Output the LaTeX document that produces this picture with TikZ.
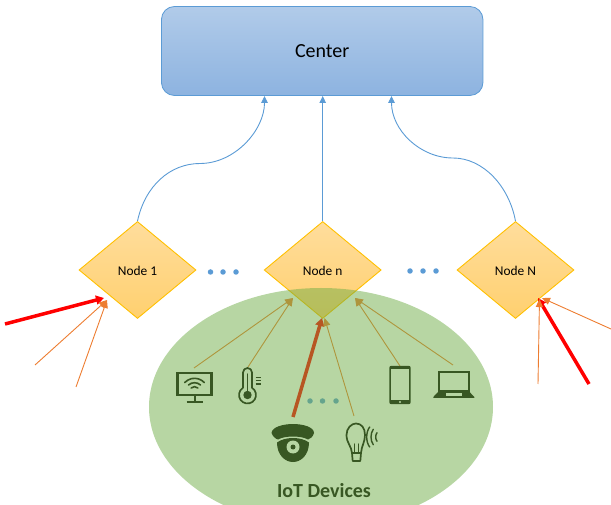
\documentclass[tikz,border=0pt]{standalone}
\usepackage{fontspec}
\setmainfont{Carlito}
\usetikzlibrary{positioning, arrows.meta, shapes.geometric}

\definecolor{centerTop}{HTML}{B1CBE9}
\definecolor{centerBottom}{HTML}{8DB3E0}
\definecolor{linkBlue}{HTML}{5B9BD5}
\definecolor{nodeTop}{HTML}{FFDD9C}
\definecolor{nodeBottom}{HTML}{FFD06F}
\definecolor{nodeBorder}{HTML}{FFC000}
\definecolor{thinOrange}{HTML}{ED7D31}
\definecolor{cloudGreen}{HTML}{70AD47}
\definecolor{iconDark}{HTML}{385723}
\definecolor{iconLight}{HTML}{B7D6A3}

\tikzset{
	icon line/.style={draw=iconDark, line width=1.7pt, line cap=round, line join=round},
	icon fill/.style={fill=iconDark},
	icon hole/.style={fill=iconLight},
	monitor icon/.pic={
		\draw [icon line, line width=2.2pt, line cap=butt, line join=miter] (-17,-8) rectangle (17,14);
		\draw [icon line, line width=2pt, line cap=butt] (0,-8) -- (0,-15) (-8,-15) -- (8,-15);
		\foreach \r/\a in {13.4/43, 9/48, 5/48}
			\draw [icon line, line width=1.6pt] (0,-4.7) ++(\a:\r) arc (\a:180-\a:\r);
	},
	thermo icon/.pic={
		\draw [icon line] (122:8.5) -- (-4.5,22.5) arc (180:0:4.5) -- (58:8.5) arc (58:-238:8.5);
		\fill [icon fill] (0,0) circle (4.2);
		\draw [icon line, line width=1.2pt] (0,0) -- (0,21);
		\foreach \y in {11, 14.3, 17.7}
			\draw [icon line, line width=1.5pt, line cap=butt] (8,\y) -- (13.5,\y);
	},
	camera icon/.pic={
		\fill [icon fill] (-21.5,14) .. controls (-21,20) and (-10,23) .. (0,23) .. controls (10,23) and (21,20) .. (21,14) .. controls (20,10) and (17,8) .. (15,7.5) .. controls (8,11.5) and (-8,11.5) .. (-15,7.5) .. controls (-17,8) and (-20,10) .. (-21.5,14) -- cycle;
		\fill [icon fill] (-16,4.5) .. controls (-8,10.5) and (8,10.5) .. (16,4.5) .. controls (16,-8) and (8,-15) .. (0,-15) .. controls (-8,-15) and (-16,-8) .. (-16,4.5) -- cycle;
		\fill [icon hole] (0,0) circle (6.5);
		\fill [icon fill] (0,0) circle (2.5);
	},
	bulb icon/.pic={
		\draw [icon line] (-4.5,-16) .. controls (-5,-9) and (-10,-6) .. (-10,2) .. controls (-10,9) and (-5,13.5) .. (-0.5,13.5) .. controls (5,13.5) and (8.5,9) .. (8.5,2) .. controls (8.5,-5) and (5,-9) .. (4.5,-16) -- cycle;
		\draw [icon line] (-4.5,-16) -- (-3.8,-24) -- (3.8,-24) -- (4.5,-16);
		\draw [icon line, line width=1.2pt] (-2,-16) -- (-2,-7) (2,-16) -- (2,-7);
		\foreach \x/\h in {10.2/10, 14.5/7.7, 19.2/4.3}
			\draw [icon line, line width=1.4pt] (\x+\h*0.3,\h) .. controls (\x-\h*0.1,\h*0.5) and (\x-\h*0.1,-\h*0.5) .. (\x+\h*0.3,-\h);
	},
	phone icon/.pic={
		\fill [icon fill, rounded corners=2pt] (-10.7,-19.2) rectangle (10.7,19.2);
		\fill [icon hole] (-9,-14.8) rectangle (9,15.9);
		\fill [icon hole] (0,-17) circle (1.2);
	},
	laptop icon/.pic={
		\draw [icon line, line width=1.8pt, line cap=butt, line join=miter] (-15,-5.7) rectangle (15,12.7);
		\fill [icon fill] (-15.5,-6.7) -- (15.5,-6.7) -- (20.5,-12) -- (20.5,-13) -- (-20.5,-13) -- (-20.5,-12) -- cycle;
		\fill [icon hole] (-7.5,-8.5) rectangle (8,-10.8);
	}
}

\begin{document}
\begin{tikzpicture}[
	x=1pt,
	y=1pt,
	center box/.style={draw=linkBlue, line width=0.8pt, rounded corners=13pt, top color=centerTop, bottom color=centerBottom, minimum width=321.5pt, minimum height=89pt, font=\fontsize{20}{24}\selectfont},
	edge node/.style={diamond, draw=nodeBorder, line width=0.9pt, top color=nodeTop, bottom color=nodeBottom, minimum width=117pt, minimum height=97pt, inner sep=0pt, text height=11pt, font=\fontsize{13.4}{16}\selectfont},
	uplink/.style={draw=linkBlue, line width=0.9pt, -{Triangle[length=7pt, width=6.5pt]}},
	thin link/.style={draw=thinOrange, line width=0.9pt, -{Triangle[length=8pt, width=7pt]}},
	red link/.style={draw=red, line width=3.5pt, -{Triangle[length=8pt, width=9pt]}},
	gap dot/.style={circle, fill=linkBlue, minimum size=5.5pt, inner sep=0pt}
]

\clip (0,0) rectangle (611,504);

\node [center box] (center) at (322.2,453) {Center};

\foreach \n/\l/\x in {node-1/1/137.5, node-n/n/322.7, node-N/N/515.5}
	\node [edge node] (\n) at (\x,234) {Node \l};

\foreach \n/\p in {
	center-left/{264.5,408}, center-mid/{322.7,408}, center-right/{391.5,408},
	in-1-a/{107,204}, in-1-b/{104,206},
	in-n-left/{293,206}, in-n-right/{355,206}, in-n-low/{322,186}, in-n-bulb/{324.5,186},
	in-N-a/{542,206}, in-N-b/{539.5,205}, in-N-c/{538,206},
	from-1-a/{35,139}, from-1-b/{76,117}, from-1-c/{5,180},
	from-monitor/{194,136}, from-thermo/{248,137}, from-phone/{400,138}, from-laptop/{453,139},
	from-camera/{293,87}, from-bulb/{354,88},
	from-N-a/{611,175}, from-N-b/{538,120}, from-N-c/{589,120}}
	\coordinate (\n) at (\p);

\draw [uplink] (node-1.north) .. controls (145,318) and (170,340.5) .. (200,340.5) .. controls (235,340.5) and (264.5,374) .. (center-left);
\draw [uplink] (node-n.north) -- (center-mid);
\draw [uplink] (node-N.north) .. controls (509,318) and (483,346) .. (453,346) .. controls (420,346) and (391.5,374) .. (center-right);

\foreach \a/\b in {from-1-c/in-1-b, from-camera/in-n-low, from-N-c/in-N-c}
	\draw [red link] (\a) -- (\b);

\foreach \a/\b in {from-1-a/in-1-a, from-1-b/in-1-a, from-monitor/in-n-left, from-thermo/in-n-left, from-phone/in-n-right, from-laptop/in-n-right, from-bulb/in-n-bulb, from-N-a/in-N-a, from-N-b/in-N-b}
	\draw [thin link] (\a) -- (\b);

\foreach \x [count=\i] in {210.5, 223, 236}
	\node [gap dot] (gap-a-\i) at (\x,232) {};

\foreach \x [count=\i] in {410, 423, 436}
	\node [gap dot] (gap-b-\i) at (\x,233) {};

\foreach \x [count=\i] in {310, 322.5, 336}
	\node [gap dot] (gap-c-\i) at (\x,103) {};

\node [ellipse, fill=cloudGreen, fill opacity=0.5, minimum width=344pt, minimum height=238pt, inner sep=0pt] (devices) at (321,97) {};

\pic (monitor) at (194.5,117) {monitor icon};
\pic (thermo) at (247.5,109) {thermo icon};
\pic (camera) at (293,57) {camera icon};
\pic (bulb) at (356.5,67) {bulb icon};
\pic (phone) at (400,119) {phone icon};
\pic (laptop) at (453.8,119) {laptop icon};

\node [text=iconDark, font=\fontsize{20}{24}\selectfont\bfseries] (devices-text) at (324,13) {IoT Devices};

\end{tikzpicture}
\end{document}
